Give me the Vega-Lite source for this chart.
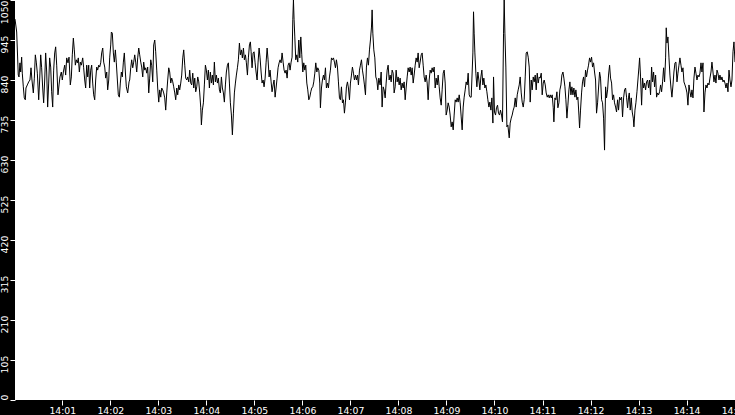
{
"$schema": "https://vega.github.io/schema/vega-lite/v6.json",
"width": 720, "height": 400,
"autosize": {"type": "none"},
"padding": {"left": 15, "top": 0, "right": 0, "bottom": 15},
"background": "black",
"config": {"view": {"fill": "white", "stroke": null}},
"data": {"values": [
{"t":1705500000900,"v":1000},{"t":1705500003000,"v":966},{"t":1705500005000,"v":853},{"t":1705500005900,"v":848},{"t":1705500007100,"v":885},{"t":1705500008000,"v":861},{"t":1705500009200,"v":900},{"t":1705500010000,"v":858},{"t":1705500011300,"v":822},{"t":1705500012500,"v":793},
{"t":1705500013800,"v":788},{"t":1705500014600,"v":819},{"t":1705500016300,"v":827},{"t":1705500018000,"v":835},{"t":1705500019600,"v":840},{"t":1705500020900,"v":872},{"t":1705500022100,"v":840},{"t":1705500023800,"v":806},{"t":1705500025000,"v":843},{"t":1705500026300,"v":906},
{"t":1705500027500,"v":887},{"t":1705500028800,"v":858},{"t":1705500030500,"v":788},{"t":1705500031700,"v":840},{"t":1705500033000,"v":906},{"t":1705500034200,"v":872},{"t":1705500035500,"v":819},{"t":1705500036700,"v":780},{"t":1705500038000,"v":840},{"t":1705500039200,"v":911},
{"t":1705500040500,"v":861},{"t":1705500041700,"v":769},{"t":1705500043000,"v":832},{"t":1705500044200,"v":898},{"t":1705500045500,"v":874},{"t":1705500046700,"v":809},{"t":1705500048000,"v":769},{"t":1705500049200,"v":866},{"t":1705500050500,"v":911},{"t":1705500051700,"v":927},
{"t":1705500053000,"v":879},{"t":1705500054600,"v":801},{"t":1705500055900,"v":827},{"t":1705500057100,"v":848},{"t":1705500058800,"v":861},{"t":1705500060000,"v":840},{"t":1705500061300,"v":861},{"t":1705500063000,"v":879},{"t":1705500064200,"v":853},{"t":1705500065500,"v":898},
{"t":1705500067100,"v":885},{"t":1705500068400,"v":900},{"t":1705500070000,"v":827},{"t":1705500071300,"v":848},{"t":1705500072500,"v":906},{"t":1705500073800,"v":950},{"t":1705500075000,"v":919},{"t":1705500076300,"v":879},{"t":1705500077500,"v":893},{"t":1705500078800,"v":885},
{"t":1705500080000,"v":898},{"t":1705500081300,"v":861},{"t":1705500082500,"v":887},{"t":1705500083800,"v":879},{"t":1705500085500,"v":898},{"t":1705500086700,"v":872},{"t":1705500088000,"v":840},{"t":1705500089200,"v":819},{"t":1705500090500,"v":879},{"t":1705500091700,"v":848},
{"t":1705500093000,"v":879},{"t":1705500094200,"v":819},{"t":1705500095500,"v":866},{"t":1705500096700,"v":879},{"t":1705500098000,"v":832},{"t":1705500099200,"v":801},{"t":1705500100500,"v":788},{"t":1705500101700,"v":840},{"t":1705500103000,"v":874},{"t":1705500104200,"v":866},
{"t":1705500105500,"v":879},{"t":1705500106700,"v":874},{"t":1705500108000,"v":885},{"t":1705500109200,"v":911},{"t":1705500110500,"v":924},{"t":1705500111700,"v":887},{"t":1705500113000,"v":874},{"t":1705500114200,"v":845},{"t":1705500115500,"v":861},{"t":1705500116700,"v":814},
{"t":1705500118000,"v":840},{"t":1705500119200,"v":898},{"t":1705500120500,"v":932},{"t":1705500121300,"v":966},{"t":1705500122500,"v":963},{"t":1705500123800,"v":911},{"t":1705500125000,"v":887},{"t":1705500126300,"v":919},{"t":1705500127500,"v":885},{"t":1705500128800,"v":840},
{"t":1705500130000,"v":801},{"t":1705500131300,"v":795},{"t":1705500132500,"v":832},{"t":1705500133800,"v":861},{"t":1705500135000,"v":848},{"t":1705500136300,"v":887},{"t":1705500137500,"v":911},{"t":1705500138800,"v":861},{"t":1705500140000,"v":822},{"t":1705500141700,"v":806},
{"t":1705500143400,"v":835},{"t":1705500144200,"v":840},{"t":1705500145500,"v":872},{"t":1705500146700,"v":893},{"t":1705500148000,"v":872},{"t":1705500149200,"v":887},{"t":1705500150500,"v":906},{"t":1705500151700,"v":887},{"t":1705500153000,"v":861},{"t":1705500154200,"v":898},
{"t":1705500155500,"v":924},{"t":1705500156700,"v":906},{"t":1705500158000,"v":887},{"t":1705500159200,"v":874},{"t":1705500160500,"v":848},{"t":1705500161700,"v":887},{"t":1705500163000,"v":866},{"t":1705500164200,"v":872},{"t":1705500165500,"v":858},{"t":1705500166700,"v":874},
{"t":1705500168000,"v":806},{"t":1705500169200,"v":845},{"t":1705500170500,"v":893},{"t":1705500171700,"v":879},{"t":1705500173000,"v":835},{"t":1705500174200,"v":932},{"t":1705500175500,"v":945},{"t":1705500176700,"v":914},{"t":1705500178000,"v":866},{"t":1705500179200,"v":819},
{"t":1705500180500,"v":782},{"t":1705500181700,"v":814},{"t":1705500183000,"v":795},{"t":1705500184200,"v":819},{"t":1705500185500,"v":814},{"t":1705500186700,"v":806},{"t":1705500188000,"v":793},{"t":1705500189200,"v":761},{"t":1705500190500,"v":806},{"t":1705500191700,"v":840},
{"t":1705500193000,"v":872},{"t":1705500194200,"v":861},{"t":1705500195500,"v":832},{"t":1705500196700,"v":845},{"t":1705500198000,"v":835},{"t":1705500199200,"v":822},{"t":1705500200500,"v":806},{"t":1705500201700,"v":788},{"t":1705500203000,"v":819},{"t":1705500204200,"v":801},
{"t":1705500205500,"v":827},{"t":1705500206700,"v":814},{"t":1705500208000,"v":832},{"t":1705500209200,"v":853},{"t":1705500210500,"v":898},{"t":1705500211700,"v":919},{"t":1705500213000,"v":879},{"t":1705500214200,"v":845},{"t":1705500215500,"v":840},{"t":1705500216700,"v":848},
{"t":1705500218000,"v":835},{"t":1705500219200,"v":866},{"t":1705500220500,"v":832},{"t":1705500221700,"v":827},{"t":1705500223000,"v":858},{"t":1705500224200,"v":819},{"t":1705500225500,"v":845},{"t":1705500226700,"v":809},{"t":1705500228000,"v":822},{"t":1705500229200,"v":848},
{"t":1705500230500,"v":835},{"t":1705500231700,"v":806},{"t":1705500233000,"v":767},{"t":1705500233800,"v":722},{"t":1705500235000,"v":761},{"t":1705500236300,"v":780},{"t":1705500237500,"v":827},{"t":1705500238800,"v":879},{"t":1705500240000,"v":866},{"t":1705500241300,"v":840},
{"t":1705500242500,"v":866},{"t":1705500243800,"v":819},{"t":1705500245000,"v":861},{"t":1705500246300,"v":832},{"t":1705500247500,"v":853},{"t":1705500248800,"v":827},{"t":1705500250000,"v":887},{"t":1705500251300,"v":835},{"t":1705500252500,"v":853},{"t":1705500253800,"v":832},
{"t":1705500255000,"v":845},{"t":1705500256300,"v":814},{"t":1705500257500,"v":806},{"t":1705500258800,"v":848},{"t":1705500260000,"v":819},{"t":1705500261300,"v":806},{"t":1705500262500,"v":782},{"t":1705500263800,"v":827},{"t":1705500265000,"v":861},{"t":1705500266300,"v":879},
{"t":1705500267500,"v":885},{"t":1705500268800,"v":832},{"t":1705500270000,"v":780},{"t":1705500271300,"v":748},{"t":1705500272500,"v":696},{"t":1705500273800,"v":753},{"t":1705500275000,"v":806},{"t":1705500276300,"v":832},{"t":1705500277500,"v":853},{"t":1705500278800,"v":872},
{"t":1705500280000,"v":893},{"t":1705500281300,"v":937},{"t":1705500282500,"v":906},{"t":1705500283800,"v":919},{"t":1705500285000,"v":898},{"t":1705500286300,"v":924},{"t":1705500287500,"v":893},{"t":1705500288800,"v":906},{"t":1705500290000,"v":885},{"t":1705500291300,"v":853},
{"t":1705500292500,"v":898},{"t":1705500293800,"v":932},{"t":1705500295000,"v":940},{"t":1705500295900,"v":914},{"t":1705500297100,"v":872},{"t":1705500298400,"v":911},{"t":1705500299600,"v":914},{"t":1705500300900,"v":885},{"t":1705500302100,"v":861},{"t":1705500303400,"v":840},
{"t":1705500304600,"v":887},{"t":1705500305900,"v":924},{"t":1705500307100,"v":898},{"t":1705500308400,"v":861},{"t":1705500309600,"v":832},{"t":1705500310900,"v":840},{"t":1705500312100,"v":822},{"t":1705500313400,"v":845},{"t":1705500314600,"v":885},{"t":1705500315900,"v":924},
{"t":1705500317100,"v":893},{"t":1705500318400,"v":848},{"t":1705500319600,"v":866},{"t":1705500320900,"v":835},{"t":1705500322100,"v":809},{"t":1705500323400,"v":827},{"t":1705500324600,"v":840},{"t":1705500325900,"v":795},{"t":1705500327100,"v":819},{"t":1705500328400,"v":845},
{"t":1705500329600,"v":872},{"t":1705500330900,"v":885},{"t":1705500332100,"v":893},{"t":1705500333400,"v":885},{"t":1705500334600,"v":911},{"t":1705500335900,"v":887},{"t":1705500337100,"v":866},{"t":1705500338400,"v":858},{"t":1705500339600,"v":866},{"t":1705500340900,"v":845},
{"t":1705500342100,"v":879},{"t":1705500343400,"v":885},{"t":1705500344600,"v":866},{"t":1705500345900,"v":887},{"t":1705500347100,"v":900},{"t":1705500348000,"v":998},{"t":1705500348800,"v":1050},{"t":1705500349600,"v":998},{"t":1705500350500,"v":953},{"t":1705500351700,"v":893},
{"t":1705500353000,"v":906},{"t":1705500354200,"v":887},{"t":1705500355500,"v":945},{"t":1705500356700,"v":898},{"t":1705500358000,"v":953},{"t":1705500359200,"v":906},{"t":1705500360500,"v":861},{"t":1705500361700,"v":885},{"t":1705500363000,"v":866},{"t":1705500364200,"v":879},
{"t":1705500365500,"v":832},{"t":1705500366700,"v":814},{"t":1705500368000,"v":788},{"t":1705500369200,"v":795},{"t":1705500370500,"v":809},{"t":1705500371700,"v":819},{"t":1705500373000,"v":822},{"t":1705500374200,"v":835},{"t":1705500375500,"v":858},{"t":1705500376700,"v":885},
{"t":1705500378000,"v":861},{"t":1705500379200,"v":872},{"t":1705500380500,"v":866},{"t":1705500381700,"v":832},{"t":1705500382500,"v":767},{"t":1705500383800,"v":819},{"t":1705500385000,"v":840},{"t":1705500386300,"v":853},{"t":1705500387500,"v":840},{"t":1705500388800,"v":872},
{"t":1705500390000,"v":819},{"t":1705500391300,"v":832},{"t":1705500392500,"v":819},{"t":1705500393800,"v":848},{"t":1705500395000,"v":866},{"t":1705500396300,"v":898},{"t":1705500397500,"v":893},{"t":1705500398800,"v":898},{"t":1705500400000,"v":887},{"t":1705500401300,"v":872},
{"t":1705500402500,"v":893},{"t":1705500403800,"v":874},{"t":1705500405000,"v":835},{"t":1705500406300,"v":793},{"t":1705500407500,"v":788},{"t":1705500408800,"v":822},{"t":1705500410000,"v":780},{"t":1705500411300,"v":788},{"t":1705500412500,"v":753},{"t":1705500413800,"v":782},
{"t":1705500415000,"v":822},{"t":1705500416300,"v":835},{"t":1705500417500,"v":819},{"t":1705500418800,"v":788},{"t":1705500420000,"v":832},{"t":1705500421300,"v":853},{"t":1705500422500,"v":874},{"t":1705500423800,"v":858},{"t":1705500425000,"v":840},{"t":1705500426300,"v":853},
{"t":1705500427500,"v":840},{"t":1705500428800,"v":853},{"t":1705500430000,"v":827},{"t":1705500431300,"v":866},{"t":1705500432500,"v":879},{"t":1705500433800,"v":893},{"t":1705500435000,"v":866},{"t":1705500436300,"v":848},{"t":1705500437500,"v":827},{"t":1705500438800,"v":801},
{"t":1705500440000,"v":874},{"t":1705500441300,"v":898},{"t":1705500442500,"v":879},{"t":1705500443800,"v":919},{"t":1705500445000,"v":945},{"t":1705500446300,"v":979},{"t":1705500447100,"v":1024},{"t":1705500448000,"v":963},{"t":1705500449200,"v":919},{"t":1705500450500,"v":898},
{"t":1705500451700,"v":848},{"t":1705500453000,"v":840},{"t":1705500454200,"v":814},{"t":1705500455500,"v":845},{"t":1705500457100,"v":827},{"t":1705500458400,"v":861},{"t":1705500459600,"v":769},{"t":1705500460900,"v":822},{"t":1705500462100,"v":814},{"t":1705500463400,"v":793},
{"t":1705500464600,"v":832},{"t":1705500465900,"v":866},{"t":1705500467100,"v":879},{"t":1705500468400,"v":840},{"t":1705500469600,"v":853},{"t":1705500470900,"v":835},{"t":1705500472100,"v":866},{"t":1705500473400,"v":858},{"t":1705500474600,"v":806},{"t":1705500475900,"v":822},
{"t":1705500477100,"v":866},{"t":1705500478400,"v":835},{"t":1705500479600,"v":848},{"t":1705500480900,"v":827},{"t":1705500482100,"v":845},{"t":1705500483400,"v":814},{"t":1705500484600,"v":832},{"t":1705500485900,"v":819},{"t":1705500487100,"v":835},{"t":1705500488400,"v":788},
{"t":1705500489600,"v":819},{"t":1705500490900,"v":848},{"t":1705500492100,"v":872},{"t":1705500493400,"v":861},{"t":1705500494600,"v":874},{"t":1705500495900,"v":853},{"t":1705500497100,"v":872},{"t":1705500498400,"v":832},{"t":1705500499600,"v":853},{"t":1705500500900,"v":879},
{"t":1705500502100,"v":898},{"t":1705500503400,"v":887},{"t":1705500504600,"v":911},{"t":1705500505900,"v":872},{"t":1705500507100,"v":887},{"t":1705500508400,"v":906},{"t":1705500509600,"v":911},{"t":1705500510900,"v":879},{"t":1705500512100,"v":848},{"t":1705500513400,"v":835},
{"t":1705500514600,"v":853},{"t":1705500515900,"v":832},{"t":1705500517100,"v":788},{"t":1705500518400,"v":840},{"t":1705500519600,"v":866},{"t":1705500520900,"v":858},{"t":1705500522100,"v":872},{"t":1705500523400,"v":861},{"t":1705500524600,"v":874},{"t":1705500525900,"v":819},
{"t":1705500527100,"v":845},{"t":1705500528400,"v":827},{"t":1705500529600,"v":853},{"t":1705500530900,"v":822},{"t":1705500532100,"v":793},{"t":1705500533400,"v":774},{"t":1705500534600,"v":814},{"t":1705500535900,"v":858},{"t":1705500537100,"v":866},{"t":1705500538400,"v":832},
{"t":1705500539600,"v":748},{"t":1705500540900,"v":761},{"t":1705500542100,"v":780},{"t":1705500543400,"v":769},{"t":1705500544600,"v":748},{"t":1705500545900,"v":717},{"t":1705500547100,"v":730},{"t":1705500548400,"v":709},{"t":1705500549600,"v":748},{"t":1705500550900,"v":788},
{"t":1705500552100,"v":782},{"t":1705500553400,"v":793},{"t":1705500554600,"v":782},{"t":1705500555900,"v":801},{"t":1705500557100,"v":780},{"t":1705500558400,"v":743},{"t":1705500559600,"v":709},{"t":1705500560900,"v":769},{"t":1705500562100,"v":795},{"t":1705500563400,"v":814},
{"t":1705500564600,"v":835},{"t":1705500565900,"v":827},{"t":1705500567100,"v":858},{"t":1705500568400,"v":801},{"t":1705500569600,"v":795},{"t":1705500570900,"v":795},{"t":1705500572100,"v":861},{"t":1705500573000,"v":911},{"t":1705500573800,"v":1019},{"t":1705500574600,"v":963},
{"t":1705500575500,"v":911},{"t":1705500576700,"v":858},{"t":1705500578000,"v":822},{"t":1705500579200,"v":861},{"t":1705500580500,"v":840},{"t":1705500581700,"v":814},{"t":1705500583000,"v":848},{"t":1705500584200,"v":866},{"t":1705500585500,"v":827},{"t":1705500586700,"v":845},
{"t":1705500588000,"v":819},{"t":1705500589200,"v":827},{"t":1705500590500,"v":809},{"t":1705500591700,"v":788},{"t":1705500593000,"v":769},{"t":1705500594200,"v":782},{"t":1705500595500,"v":761},{"t":1705500596700,"v":793},{"t":1705500598000,"v":727},{"t":1705500598800,"v":848},
{"t":1705500600000,"v":756},{"t":1705500601300,"v":748},{"t":1705500602500,"v":767},{"t":1705500603800,"v":774},{"t":1705500605000,"v":753},{"t":1705500606300,"v":748},{"t":1705500607500,"v":761},{"t":1705500608800,"v":748},{"t":1705500610000,"v":730},{"t":1705500611300,"v":963},
{"t":1705500612100,"v":1050},{"t":1705500613000,"v":963},{"t":1705500614200,"v":874},{"t":1705500615500,"v":717},{"t":1705500616700,"v":722},{"t":1705500618400,"v":688},{"t":1705500619600,"v":727},{"t":1705500620900,"v":740},{"t":1705500622100,"v":748},{"t":1705500623400,"v":761},
{"t":1705500624600,"v":769},{"t":1705500625900,"v":793},{"t":1705500627100,"v":769},{"t":1705500628400,"v":801},{"t":1705500629600,"v":814},{"t":1705500630900,"v":827},{"t":1705500632100,"v":848},{"t":1705500633400,"v":806},{"t":1705500634600,"v":782},{"t":1705500635900,"v":769},
{"t":1705500637100,"v":788},{"t":1705500638400,"v":848},{"t":1705500639600,"v":911},{"t":1705500640900,"v":914},{"t":1705500642100,"v":900},{"t":1705500643400,"v":874},{"t":1705500644600,"v":782},{"t":1705500645900,"v":840},{"t":1705500647100,"v":814},{"t":1705500648400,"v":848},
{"t":1705500649600,"v":835},{"t":1705500650900,"v":853},{"t":1705500652100,"v":814},{"t":1705500653400,"v":858},{"t":1705500654600,"v":832},{"t":1705500655900,"v":848},{"t":1705500657100,"v":845},{"t":1705500658400,"v":858},{"t":1705500659600,"v":801},{"t":1705500660900,"v":832},
{"t":1705500662100,"v":840},{"t":1705500663400,"v":827},{"t":1705500664600,"v":806},{"t":1705500665900,"v":795},{"t":1705500667100,"v":801},{"t":1705500668400,"v":793},{"t":1705500669600,"v":801},{"t":1705500670900,"v":793},{"t":1705500672100,"v":801},{"t":1705500673400,"v":767},
{"t":1705500674200,"v":730},{"t":1705500675500,"v":793},{"t":1705500676700,"v":788},{"t":1705500678000,"v":809},{"t":1705500679200,"v":767},{"t":1705500680500,"v":780},{"t":1705500681700,"v":814},{"t":1705500683000,"v":827},{"t":1705500684200,"v":853},{"t":1705500685500,"v":861},
{"t":1705500686700,"v":845},{"t":1705500688000,"v":822},{"t":1705500689200,"v":788},{"t":1705500690500,"v":740},{"t":1705500691700,"v":774},{"t":1705500693000,"v":814},{"t":1705500694200,"v":835},{"t":1705500695500,"v":801},{"t":1705500696700,"v":822},{"t":1705500698000,"v":801},
{"t":1705500699200,"v":819},{"t":1705500700500,"v":795},{"t":1705500701700,"v":814},{"t":1705500703000,"v":788},{"t":1705500704200,"v":795},{"t":1705500705500,"v":748},{"t":1705500706300,"v":714},{"t":1705500707500,"v":761},{"t":1705500708800,"v":806},{"t":1705500710000,"v":835},
{"t":1705500711300,"v":848},{"t":1705500712500,"v":822},{"t":1705500713800,"v":866},{"t":1705500715000,"v":848},{"t":1705500716300,"v":866},{"t":1705500717500,"v":879},{"t":1705500718800,"v":898},{"t":1705500720000,"v":887},{"t":1705500721300,"v":900},{"t":1705500722500,"v":874},
{"t":1705500723800,"v":885},{"t":1705500725000,"v":861},{"t":1705500726300,"v":840},{"t":1705500727500,"v":753},{"t":1705500728800,"v":780},{"t":1705500730000,"v":819},{"t":1705500731300,"v":861},{"t":1705500732500,"v":845},{"t":1705500733800,"v":788},{"t":1705500735000,"v":780},
{"t":1705500736300,"v":740},{"t":1705500737500,"v":656},{"t":1705500738800,"v":822},{"t":1705500740000,"v":793},{"t":1705500741300,"v":814},{"t":1705500742500,"v":853},{"t":1705500743800,"v":879},{"t":1705500745000,"v":845},{"t":1705500746300,"v":832},{"t":1705500747500,"v":788},
{"t":1705500748800,"v":801},{"t":1705500750000,"v":780},{"t":1705500751300,"v":769},{"t":1705500752500,"v":756},{"t":1705500753800,"v":788},{"t":1705500755000,"v":761},{"t":1705500756300,"v":795},{"t":1705500757500,"v":788},{"t":1705500758800,"v":795},{"t":1705500760000,"v":743},
{"t":1705500761300,"v":793},{"t":1705500762500,"v":814},{"t":1705500763800,"v":819},{"t":1705500765000,"v":795},{"t":1705500766300,"v":767},{"t":1705500767500,"v":795},{"t":1705500768400,"v":806},{"t":1705500769600,"v":761},{"t":1705500770900,"v":793},{"t":1705500772100,"v":756},
{"t":1705500773400,"v":740},{"t":1705500774200,"v":717},{"t":1705500775500,"v":761},{"t":1705500776700,"v":780},{"t":1705500778000,"v":809},{"t":1705500779200,"v":840},{"t":1705500780500,"v":874},{"t":1705500781300,"v":898},{"t":1705500782500,"v":848},{"t":1705500783800,"v":774},
{"t":1705500785000,"v":845},{"t":1705500786300,"v":819},{"t":1705500787500,"v":832},{"t":1705500788800,"v":814},{"t":1705500790000,"v":835},{"t":1705500791300,"v":840},{"t":1705500792500,"v":819},{"t":1705500793800,"v":840},{"t":1705500795000,"v":801},{"t":1705500796300,"v":874},
{"t":1705500797500,"v":835},{"t":1705500798800,"v":861},{"t":1705500800000,"v":822},{"t":1705500801300,"v":853},{"t":1705500802500,"v":795},{"t":1705500803800,"v":806},{"t":1705500805000,"v":801},{"t":1705500806300,"v":809},{"t":1705500807500,"v":827},{"t":1705500808800,"v":809},
{"t":1705500810000,"v":835},{"t":1705500811300,"v":872},{"t":1705500812500,"v":835},{"t":1705500813800,"v":898},{"t":1705500814600,"v":977},{"t":1705500815500,"v":937},{"t":1705500816700,"v":953},{"t":1705500818000,"v":898},{"t":1705500819200,"v":853},{"t":1705500820500,"v":819},
{"t":1705500821700,"v":795},{"t":1705500823000,"v":827},{"t":1705500824200,"v":861},{"t":1705500825500,"v":885},{"t":1705500826700,"v":887},{"t":1705500828000,"v":835},{"t":1705500829200,"v":858},{"t":1705500830500,"v":879},{"t":1705500831700,"v":898},{"t":1705500833000,"v":879},
{"t":1705500834200,"v":861},{"t":1705500835500,"v":872},{"t":1705500836700,"v":835},{"t":1705500838000,"v":827},{"t":1705500839200,"v":819},{"t":1705500840500,"v":806},{"t":1705500841700,"v":774},{"t":1705500843000,"v":827},{"t":1705500844200,"v":809},{"t":1705500845500,"v":795},
{"t":1705500846700,"v":814},{"t":1705500848000,"v":793},{"t":1705500849200,"v":845},{"t":1705500850500,"v":874},{"t":1705500851700,"v":858},{"t":1705500853000,"v":840},{"t":1705500854200,"v":853},{"t":1705500855500,"v":848},{"t":1705500856700,"v":858},{"t":1705500858000,"v":885},
{"t":1705500859200,"v":861},{"t":1705500860500,"v":885},{"t":1705500861700,"v":756},{"t":1705500863000,"v":806},{"t":1705500864200,"v":827},{"t":1705500865500,"v":819},{"t":1705500866700,"v":832},{"t":1705500868000,"v":827},{"t":1705500869200,"v":845},{"t":1705500870500,"v":861},
{"t":1705500871700,"v":887},{"t":1705500873000,"v":861},{"t":1705500874200,"v":835},{"t":1705500875500,"v":853},{"t":1705500876700,"v":832},{"t":1705500878000,"v":866},{"t":1705500879200,"v":858},{"t":1705500880500,"v":840},{"t":1705500881700,"v":853},{"t":1705500883000,"v":840},
{"t":1705500884200,"v":848},{"t":1705500885500,"v":835},{"t":1705500886700,"v":840},{"t":1705500888000,"v":832},{"t":1705500889200,"v":819},{"t":1705500890500,"v":832},{"t":1705500891700,"v":809},{"t":1705500893000,"v":866},{"t":1705500894200,"v":840},{"t":1705500895500,"v":822},
{"t":1705500896700,"v":840},{"t":1705500898000,"v":914},{"t":1705500899200,"v":940},{"t":1705500900500,"v":887}
]},
"mark": {"type": "line", "color": "black", "strokeWidth": 1, "clip": true},
"encoding": {
 "x": {"field": "t", "type": "temporal",
  "scale": {"type": "utc", "nice": false},
  "axis": {"title": null, "format": "%H:%M", "tickCount": 15, "grid": false, "domain": false,
   "labelColor": "white", "tickColor": "white", "tickSize": 5, "labelFont": "DejaVu Sans", "labelFontSize": 9.3, "labelPadding": 1,
   "labelOverlap": false, "labelFlush": false, "labelBound": false}},
 "y": {"field": "v", "type": "quantitative",
  "scale": {"domain": [0, 1050], "nice": false},
  "axis": {"title": null, "format": "d", "values": [0, 105, 210, 315, 420, 525, 630, 735, 840, 945, 1050], "grid": false, "domain": false,
   "labelColor": "white", "tickColor": "white", "tickSize": 5, "labelFont": "DejaVu Sans", "labelFontSize": 9.3, "labelPadding": 1,
   "labelAngle": 270, "labelBaseline": "bottom", "labelOverlap": false,
   "labelOffset": {"condition": {"test": "datum.value == 0 || datum.value == 1050", "value": 0}, "value": 4},
   "labelAlign": {"condition": [{"test": "datum.value == 1050", "value": "right"}, {"test": "datum.value == 0", "value": "left"}], "value": "center"}}}
}
}
